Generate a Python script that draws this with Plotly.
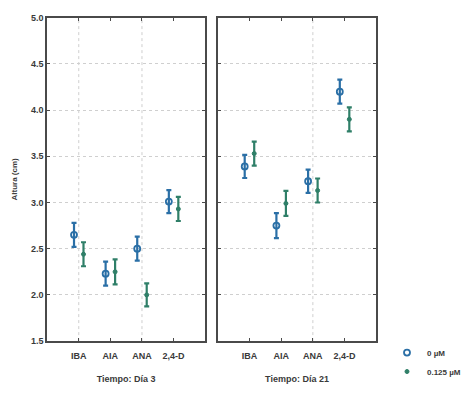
import plotly.graph_objects as go

categories = ["IBA", "AIA", "ANA", "2,4-D"]
panels = ["Tiempo: Día 3", "Tiempo: Día 21"]
series_names = ["0 µM", "0.125 µM"]

day3_0 = [2.65, 2.23, 2.50, 3.01]
day3_0_err = [0.13, 0.13, 0.13, 0.125]
day3_125 = [2.44, 2.25, 2.00, 2.93]
day3_125_err = [0.13, 0.135, 0.125, 0.13]

day21_0 = [3.39, 2.75, 3.23, 4.20]
day21_0_err = [0.125, 0.135, 0.125, 0.13]
day21_125 = [3.53, 2.99, 3.13, 3.90]
day21_125_err = [0.13, 0.135, 0.13, 0.13]

yticks = [1.5, 2.0, 2.5, 3.0, 3.5, 4.0, 4.5, 5.0]

blue = "#2a6fa6"
green = "#2f7f68"
font_fam = "Liberation Sans Narrow, Arial Narrow, Liberation Sans, Arial"
txt = "#3a3a3a"

fig = go.Figure()

data = [
    [(day3_0, day3_0_err), (day3_125, day3_125_err)],
    [(day21_0, day21_0_err), (day21_125, day21_125_err)],
]
offsets = [-0.15, 0.15]
colors = [blue, green]
markers = [
    dict(symbol="circle-open", size=6, color=blue, line=dict(width=1.8, color=blue)),
    dict(symbol="circle", size=4, color=green, line=dict(width=1, color=green)),
]

for p in range(2):
    xa = "x" if p == 0 else "x2"
    for s in range(2):
        vals, errs = data[p][s]
        xs = [i + offsets[s] for i in range(len(categories))]
        fig.add_trace(go.Scatter(
            x=xs, y=vals, xaxis=xa, yaxis="y" if p == 0 else "y2",
            mode="markers", name=series_names[s], showlegend=(p == 0),
            marker=markers[s],
            error_y=dict(type="data", array=errs, visible=True,
                         color=colors[s], thickness=2.2, width=2.5),
        ))

def f(size):
    return dict(family=font_fam, size=size, color=txt, weight="bold")

axis_common = dict(
    range=[-1, 4], tickvals=list(range(4)), ticktext=categories,
    showgrid=False, zeroline=False, showline=True, mirror="allticks",
    linecolor="#4a4a4a", linewidth=1.6, ticks="inside", ticklen=3,
    tickcolor="#4a4a4a", tickwidth=1, ticklabelstandoff=5,
    tickfont=f(9),
)
yaxis_common = dict(
    range=[1.5, 5.0], tickvals=yticks, ticktext=[f"{v:.1f}" for v in yticks],
    showgrid=True, gridcolor="#cfcfcf", griddash="3px,3px", gridwidth=1,
    zeroline=False, showline=True, mirror="allticks",
    linecolor="#4a4a4a", linewidth=1.6, ticks="inside", ticklen=3,
    tickcolor="#4a4a4a", tickwidth=1,
    domain=[0.127, 0.967],
    tickfont=f(9),
)

fig.update_layout(
    width=466, height=395,
    margin=dict(l=0, r=0, t=0, b=0),
    paper_bgcolor="white", plot_bgcolor="white",
    xaxis=dict(axis_common, domain=[0.105, 0.457], anchor="y",
               title=dict(text=panels[0], font=f(9), standoff=16)),
    xaxis2=dict(axis_common, domain=[0.485, 0.838], anchor="y2",
                title=dict(text=panels[1], font=f(9), standoff=16)),
    yaxis=dict(yaxis_common, anchor="x",
               title=dict(text="Altura (cm)", font=f(8), standoff=12)),
    yaxis2=dict(yaxis_common, anchor="x2", matches="y", showticklabels=False),
    legend=dict(x=0.862, y=0.135, xanchor="left", yanchor="top",
                font=f(8), bgcolor="rgba(0,0,0,0)", tracegroupgap=0,
                itemwidth=30),
    showlegend=True,
)

for xa, ya, idxs in [("x", "y", [0, 2]), ("x2", "y2", [2])]:
    for i in idxs:
        fig.add_shape(type="line", xref=xa, yref=ya, x0=i, x1=i, y0=1.5, y1=5.0,
                      line=dict(color="#cfcfcf", width=1, dash="3px,3px"), layer="below")

fig.write_html("out.html")
